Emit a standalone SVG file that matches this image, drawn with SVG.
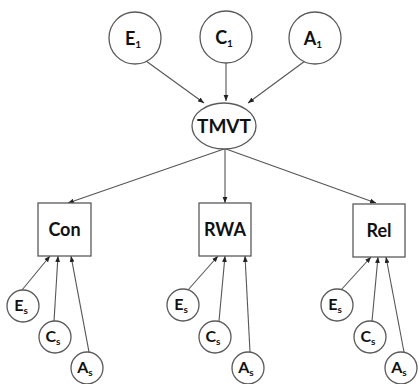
<svg xmlns="http://www.w3.org/2000/svg" width="419" height="384" viewBox="0 0 419 384">
  <defs>
    <marker id="arr" viewBox="0 0 10 10" refX="10" refY="5" markerWidth="6" markerHeight="6" markerUnits="userSpaceOnUse" orient="auto">
      <path d="M0,1 L10,5 L0,9 z" fill="#222"/>
    </marker>
    <style>
      .node { fill: #fff; stroke: #5a5a5a; stroke-width: 1.3; }
      .lbl { font-family: Lato, "Open Sans", "Liberation Sans", sans-serif; font-weight: bold; fill: #111; text-anchor: middle; }
      .big { font-size: 18px; }
      .tm { font-size: 19px; }
      .box { font-size: 18px; }
      .sm { font-size: 16px; }
      .sub { font-size: 10px; }
      .edge { stroke: #555; stroke-width: 1.1; fill: none; marker-end: url(#arr); }
    </style>
  </defs>
  <rect width="419" height="384" fill="#fff"/>

  <g id="connectors">
    <!-- top factors into TMVT -->
    <line class="edge" x1="146" y1="61" x2="204" y2="103"/>
    <line class="edge" x1="226" y1="63" x2="226" y2="101"/>
    <line class="edge" x1="305" y1="61" x2="248" y2="103"/>
    <!-- TMVT into scales -->
    <line class="edge" x1="224" y1="149" x2="68" y2="203"/>
    <line class="edge" x1="225" y1="149" x2="225" y2="203"/>
    <line class="edge" x1="226" y1="149" x2="376" y2="203"/>
    <!-- specific factors into Con -->
    <line class="edge" x1="22" y1="290" x2="50" y2="256"/>
    <line class="edge" x1="54" y1="321" x2="58" y2="256"/>
    <line class="edge" x1="89" y1="352" x2="71" y2="256"/>
    <!-- specific factors into RWA -->
    <line class="edge" x1="188" y1="290" x2="218" y2="256"/>
    <line class="edge" x1="219" y1="321" x2="225" y2="256"/>
    <line class="edge" x1="250" y1="352" x2="245" y2="256"/>
    <!-- specific factors into Rel -->
    <line class="edge" x1="341" y1="290" x2="371" y2="257"/>
    <line class="edge" x1="372" y1="321" x2="378" y2="257"/>
    <line class="edge" x1="404" y1="352" x2="386" y2="257"/>
  </g>

  <g id="E1">
    <circle class="node" cx="135" cy="38" r="26"/>
    <text class="lbl big" x="133" y="45">E<tspan class="sub" dy="3">1</tspan></text>
  </g>
  <g id="C1">
    <circle class="node" cx="226" cy="37" r="26"/>
    <text class="lbl big" x="224" y="44">C<tspan class="sub" dy="3">1</tspan></text>
  </g>
  <g id="A1">
    <circle class="node" cx="315" cy="38" r="26"/>
    <text class="lbl big" x="313" y="45">A<tspan class="sub" dy="3">1</tspan></text>
  </g>

  <g id="TMVT">
    <ellipse class="node" cx="224" cy="126" rx="32" ry="23"/>
    <text class="lbl tm" x="224" y="133">TMVT</text>
  </g>

  <g id="Con">
    <rect class="node" x="38" y="203" width="53" height="53"/>
    <text class="lbl box" x="64.5" y="236">Con</text>
  </g>
  <g id="RWA">
    <rect class="node" x="199" y="203" width="52" height="53"/>
    <text class="lbl box" x="225" y="236">RWA</text>
  </g>
  <g id="Rel">
    <rect class="node" x="353" y="204" width="52" height="53"/>
    <text class="lbl box" x="379" y="237">Rel</text>
  </g>

  <!-- specific factors, Con -->
  <g id="Con-Es">
    <circle class="node" cx="23" cy="306" r="16"/>
    <text class="lbl sm" x="21" y="311">E<tspan class="sub" dy="3">s</tspan></text>
  </g>
  <g id="Con-Cs">
    <circle class="node" cx="55" cy="337" r="16"/>
    <text class="lbl sm" x="53" y="342">C<tspan class="sub" dy="3">s</tspan></text>
  </g>
  <g id="Con-As">
    <circle class="node" cx="87" cy="368" r="16"/>
    <text class="lbl sm" x="85" y="373">A<tspan class="sub" dy="3">s</tspan></text>
  </g>

  <!-- specific factors, RWA -->
  <g id="RWA-Es">
    <circle class="node" cx="183" cy="305" r="16"/>
    <text class="lbl sm" x="181" y="310">E<tspan class="sub" dy="3">s</tspan></text>
  </g>
  <g id="RWA-Cs">
    <circle class="node" cx="215" cy="337" r="16"/>
    <text class="lbl sm" x="213" y="342">C<tspan class="sub" dy="3">s</tspan></text>
  </g>
  <g id="RWA-As">
    <circle class="node" cx="248" cy="368" r="16"/>
    <text class="lbl sm" x="246" y="373">A<tspan class="sub" dy="3">s</tspan></text>
  </g>

  <!-- specific factors, Rel -->
  <g id="Rel-Es">
    <circle class="node" cx="337" cy="305" r="16"/>
    <text class="lbl sm" x="335" y="310">E<tspan class="sub" dy="3">s</tspan></text>
  </g>
  <g id="Rel-Cs">
    <circle class="node" cx="370" cy="337" r="16"/>
    <text class="lbl sm" x="368" y="342">C<tspan class="sub" dy="3">s</tspan></text>
  </g>
  <g id="Rel-As">
    <circle class="node" cx="401" cy="368" r="16"/>
    <text class="lbl sm" x="399" y="373">A<tspan class="sub" dy="3">s</tspan></text>
  </g>
</svg>
